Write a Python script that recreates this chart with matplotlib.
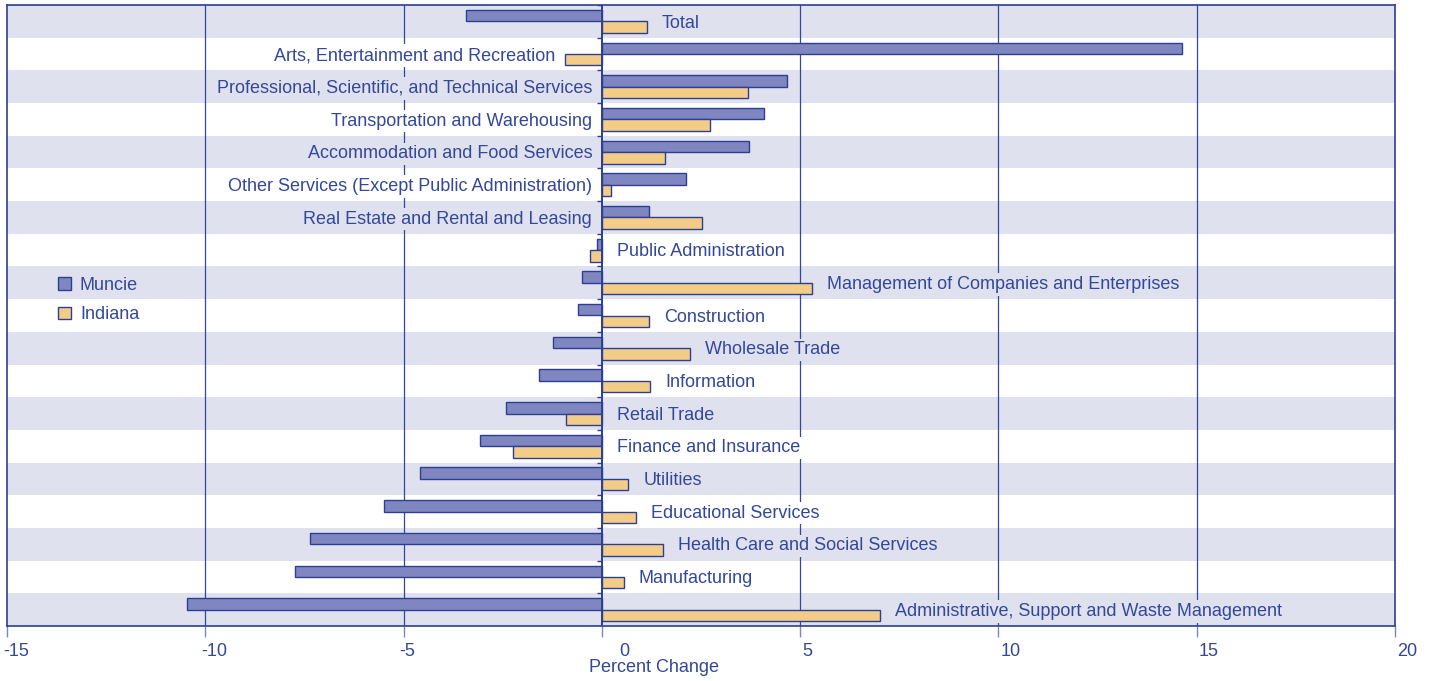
import matplotlib
matplotlib.use("Agg")
import matplotlib.pyplot as plt
from matplotlib.patches import Patch
from matplotlib.transforms import ScaledTranslation
import numpy as np

categories = [
    "Total",
    "Arts, Entertainment and Recreation",
    "Professional, Scientific, and Technical Services",
    "Transportation and Warehousing",
    "Accommodation and Food Services",
    "Other Services (Except Public Administration)",
    "Real Estate and Rental and Leasing",
    "Public Administration",
    "Management of Companies and Enterprises",
    "Construction",
    "Wholesale Trade",
    "Information",
    "Retail Trade",
    "Finance and Insurance",
    "Utilities",
    "Educational Services",
    "Health Care and Social Services",
    "Manufacturing",
    "Administrative, Support and Waste Management",
]
muncie = [-3.43, 14.62, 4.66, 4.08, 3.71, 2.12, 1.19, -0.13, -0.50, -0.60,
          -1.24, -1.59, -2.42, -3.08, -4.59, -5.50, -7.36, -7.74, -10.46]
indiana = [1.13, -0.93, 3.68, 2.72, 1.59, 0.23, 2.52, -0.30, 5.29, 1.19,
           2.22, 1.21, -0.91, -2.24, 0.66, 0.86, 1.54, 0.55, 7.01]
xticks = [-15, -10, -5, 0, 5, 10, 15, 20]
series_names = ["Muncie", "Indiana"]

TXT = "#33479b"
EDGE = "#2c3f92"
STRIPE = "#dfe1ee"
C_MUN = "#8086c0"
C_IND = "#f3cc88"
FS = 13

plt.rcParams["font.family"] = ["Liberation Sans", "DejaVu Sans"]

fig = plt.figure(figsize=(14.32, 6.81), dpi=100)
W, H = 1432, 681
ax = fig.add_axes([7 / W, 1 - 626 / H, (1395 - 7) / W, (626 - 5) / H])

n = len(categories)
y = np.arange(n)
ax.set_xlim(-15, 20)
ax.set_ylim(n - 0.5, -0.5)

# stripes
for i in range(n):
    if i % 2 == 0:
        ax.axhspan(i - 0.5, i + 0.5, color=STRIPE, zorder=0, lw=0)

# grid
for t in xticks[1:-1]:
    if t != 0:
        ax.axvline(t, color=TXT, lw=0.9, zorder=1)

bh = 0.35
ax.barh(y - bh / 2, muncie, height=bh, color=C_MUN, edgecolor=EDGE, lw=1.0, zorder=3)
ax.barh(y + bh / 2, indiana, height=bh, color=C_IND, edgecolor=EDGE, lw=1.0, zorder=3)

ax.axvline(0, color=EDGE, lw=1.4, zorder=4)
ax.hlines(np.arange(n + 1) - 0.5, -0.12, 0, color=EDGE, lw=1.0, zorder=4)

for i, (c, m, d) in enumerate(zip(categories, muncie, indiana)):
    bg = STRIPE if i % 2 == 0 else "white"
    if m > 0:
        x0 = min(0, d)
        ax.annotate(c, (x0, i), xytext=(-7, -1.2), textcoords="offset points",
                    ha="right", va="center", fontsize=FS, color=TXT, zorder=5,
                    bbox=dict(boxstyle="square,pad=0.15", fc=bg, ec="none"))
    else:
        x0 = max(0, d)
        ax.annotate(c, (x0, i), xytext=(11, -1.2), textcoords="offset points",
                    ha="left", va="center", fontsize=FS, color=TXT, zorder=5,
                    bbox=dict(boxstyle="square,pad=0.15", fc=bg, ec="none"))

for s in ax.spines.values():
    s.set_color(EDGE)
    s.set_linewidth(1.2)

ax.set_yticks([])
ax.set_xticks(xticks)
ax.set_xticklabels([str(t) for t in xticks])
ax.tick_params(axis="x", direction="out", length=8, width=1.0, color="#7b86c0",
               labelsize=FS, labelcolor=TXT, pad=4)
for t, lab in zip(xticks, ax.get_xticklabels()):
    lab.set_ha("left")
    dx = -4 if t < 0 else (17 if t == 0 else 2)
    lab.set_transform(lab.get_transform() + ScaledTranslation(dx / 100, 0, fig.dpi_scale_trans))

fig.text(654 / W, 1 - 668 / H, "Percent Change", ha="center", va="center",
         fontsize=FS, color=TXT)

handles = [Patch(facecolor=C_MUN, edgecolor=EDGE, lw=1.0),
           Patch(facecolor=C_IND, edgecolor=EDGE, lw=1.0)]
leg = ax.legend(handles, series_names, loc="center left",
                bbox_to_anchor=(42 / W, 1 - 300 / H), bbox_transform=fig.transFigure,
                frameon=False, fontsize=FS, handlelength=0.7, handleheight=0.7,
                handletextpad=0.5, labelspacing=0.7)
for t in leg.get_texts():
    t.set_color(TXT)

fig.savefig("out.png", dpi=100)
